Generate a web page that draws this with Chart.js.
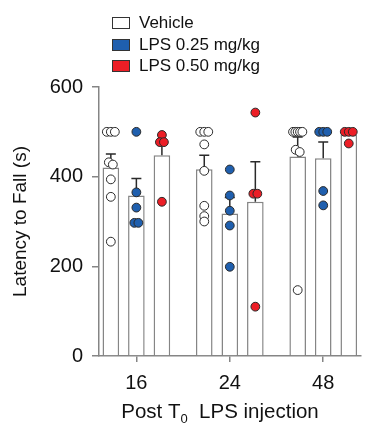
<!DOCTYPE html>
<html>
<head>
<meta charset="utf-8">
<script src="https://cdn.jsdelivr.net/npm/chart.js@4/dist/chart.umd.min.js"></script>
<style>
  html, body { margin: 0; padding: 0; background: #fff; }
  #wrap { position: relative; width: 366px; height: 423px; }
  #legend { position: absolute; left: 112px; top: 12px; font: 17px 'Liberation Sans', Arial, sans-serif; color: #111; }
  #legend .row { display: flex; align-items: center; height: 21.7px; }
  #legend .box { width: 16px; height: 10px; border: 1px solid #333; margin-right: 9px; }
</style>
</head>
<body>
<div id="wrap">
  <canvas id="chart" width="366" height="423"></canvas>
  <div id="legend"></div>
</div>
<script>
const categories = ['16', '24', '48'];
const groupNames = ['Vehicle', 'LPS 0.25 mg/kg', 'LPS 0.50 mg/kg'];
const yTicks = [0, 200, 400, 600];

// individual animals, per time point
const vehicle = [
  [500, 500, 500, 432, 427, 394, 355, 255],
  [500, 500, 500, 472, 413, 335, 312, 300],
  [500, 500, 500, 500, 500, 460, 455, 147]
];
const lps025 = [
  [500, 365, 331, 297, 297],
  [416, 358, 324, 291, 199],
  [500, 500, 500, 368, 336]
];
const lps050 = [
  [493, 477, 477, 344],
  [543, 362, 362, 110],
  [500, 500, 500, 474]
];

const groups = [vehicle, lps025, lps050];
const pointColors = ['#ffffff', '#1f5fae', '#ec1e26'];
const FONT = "'Liberation Sans', Arial, sans-serif";
const CAT_PCT = 0.82;

const mean = a => a.reduce((s, v) => s + v, 0) / a.length;
const sem = a => {
  const m = mean(a);
  const v = a.reduce((s, x) => s + (x - m) * (x - m), 0) / (a.length - 1);
  return Math.sqrt(v) / Math.sqrt(a.length);
};

// spread points of (nearly) equal value sideways, like a small beeswarm
function swarm(values, step, maxHalf) {
  const idx = values.map((v, i) => i).sort((a, b) => values[b] - values[a]);
  const out = new Array(values.length).fill(0);
  let i = 0;
  while (i < idx.length) {
    let j = i;
    while (j + 1 < idx.length && values[idx[i]] - values[idx[j + 1]] <= 8) j++;
    const n = j - i + 1;
    const d = n > 1 ? Math.min(step, 2 * maxHalf / (n - 1)) : 0;
    for (let k = 0; k < n; k++) out[idx[i + k]] = (k - (n - 1) / 2) * d;
    i = j + 1;
  }
  return out;
}

const barSets = groups.map((g, k) => ({
  type: 'bar',
  label: groupNames[k],
  data: g.map((vals, i) => ({ x: i, y: mean(vals) })),
  sems: g.map(vals => sem(vals)),
  backgroundColor: '#ffffff',
  borderColor: '#858585',
  borderWidth: 1.5,
  categoryPercentage: CAT_PCT,
  barPercentage: 0.65,
  order: 2
}));

const stackW = CAT_PCT / groups.length;
const pointSets = groups.map((g, k) => {
  const off = (k - (groups.length - 1) / 2) * stackW;
  const pts = [];
  g.forEach((vals, i) => {
    const jit = swarm(vals, 0.043, 0.05);
    vals.forEach((v, n) => pts.push({ x: i + off + jit[n], y: v }));
  });
  return {
    type: 'scatter',
    label: groupNames[k] + ' points',
    data: pts,
    backgroundColor: pointColors[k],
    borderColor: '#2a2a2a',
    borderWidth: 1,
    pointRadius: 4.4,
    order: 1
  };
});

const errorBars = {
  id: 'errorBars',
  afterDatasetDraw(chart, args) {
    const ds = chart.data.datasets[args.index];
    if (!ds.sems) return;
    const ctx = chart.ctx;
    const y = chart.scales.y;
    ctx.save();
    ctx.strokeStyle = '#2a2a2a';
    ctx.lineWidth = 1.5;
    args.meta.data.forEach((bar, i) => {
      const top = y.getPixelForValue(ds.data[i].y + ds.sems[i]);
      ctx.beginPath();
      ctx.moveTo(bar.x, bar.y);
      ctx.lineTo(bar.x, top);
      ctx.moveTo(bar.x - 5, top);
      ctx.lineTo(bar.x + 5, top);
      ctx.stroke();
    });
    ctx.restore();
  }
};

const xTitle = {
  id: 'xTitle',
  afterDraw(chart) {
    const ctx = chart.ctx;
    const parts = [['Post T', 20.5, 0], ['0', 13, 5], ['  LPS injection', 20.5, 0]];
    ctx.save();
    ctx.fillStyle = '#111';
    ctx.textBaseline = 'alphabetic';
    let w = 0;
    parts.forEach(p => { ctx.font = p[1] + 'px ' + FONT; w += ctx.measureText(p[0]).width; });
    let x = 220 - w / 2;
    parts.forEach(p => {
      ctx.font = p[1] + 'px ' + FONT;
      ctx.fillText(p[0], x, 418 + p[2]);
      x += ctx.measureText(p[0]).width;
    });
    ctx.restore();
  }
};

new Chart(document.getElementById('chart'), {
  type: 'bar',
  data: { datasets: [...barSets, ...pointSets] },
  plugins: [errorBars, xTitle],
  options: {
    responsive: false,
    devicePixelRatio: 1,
    animation: false,
    layout: { padding: { top: 87, right: 0, bottom: 0, left: 0 } },
    plugins: { legend: { display: false }, tooltip: { enabled: false } },
    scales: {
      x: {
        type: 'linear',
        min: -0.4,
        max: 2.4,
        offset: false,
        afterFit: s => { s.height = 67; },
        afterBuildTicks: s => { s.ticks = categories.map((c, i) => ({ value: i })); },
        ticks: {
          callback: v => categories[v],
          color: '#111',
          font: { family: FONT, size: 20 },
          padding: 9,
          maxRotation: 0
        },
        grid: { display: true, drawOnChartArea: false, offset: false, tickLength: 6, color: '#858585', lineWidth: 1.5 },
        border: { display: true, color: '#858585', width: 1.5 }
      },
      y: {
        min: 0,
        max: 600,
        afterFit: s => { s.width = 99; },
        afterBuildTicks: s => { s.ticks = yTicks.map(v => ({ value: v })); },
        ticks: { color: '#111', font: { family: FONT, size: 20 }, padding: 9 },
        grid: { display: true, drawOnChartArea: false, tickLength: 7, color: '#858585', lineWidth: 1.5 },
        border: { display: true, color: '#858585', width: 1.5 },
        title: {
          display: true,
          text: 'Latency to Fall (s)',
          color: '#111',
          font: { family: FONT, size: 19 },
          padding: { top: 9, bottom: 0 }
        }
      }
    }
  }
});

// legend
const legend = document.getElementById('legend');
groupNames.forEach((name, k) => {
  const row = document.createElement('div');
  row.className = 'row';
  const box = document.createElement('span');
  box.className = 'box';
  box.style.background = pointColors[k];
  const label = document.createElement('span');
  label.textContent = name;
  row.appendChild(box);
  row.appendChild(label);
  legend.appendChild(row);
});
</script>
</body>
</html>
